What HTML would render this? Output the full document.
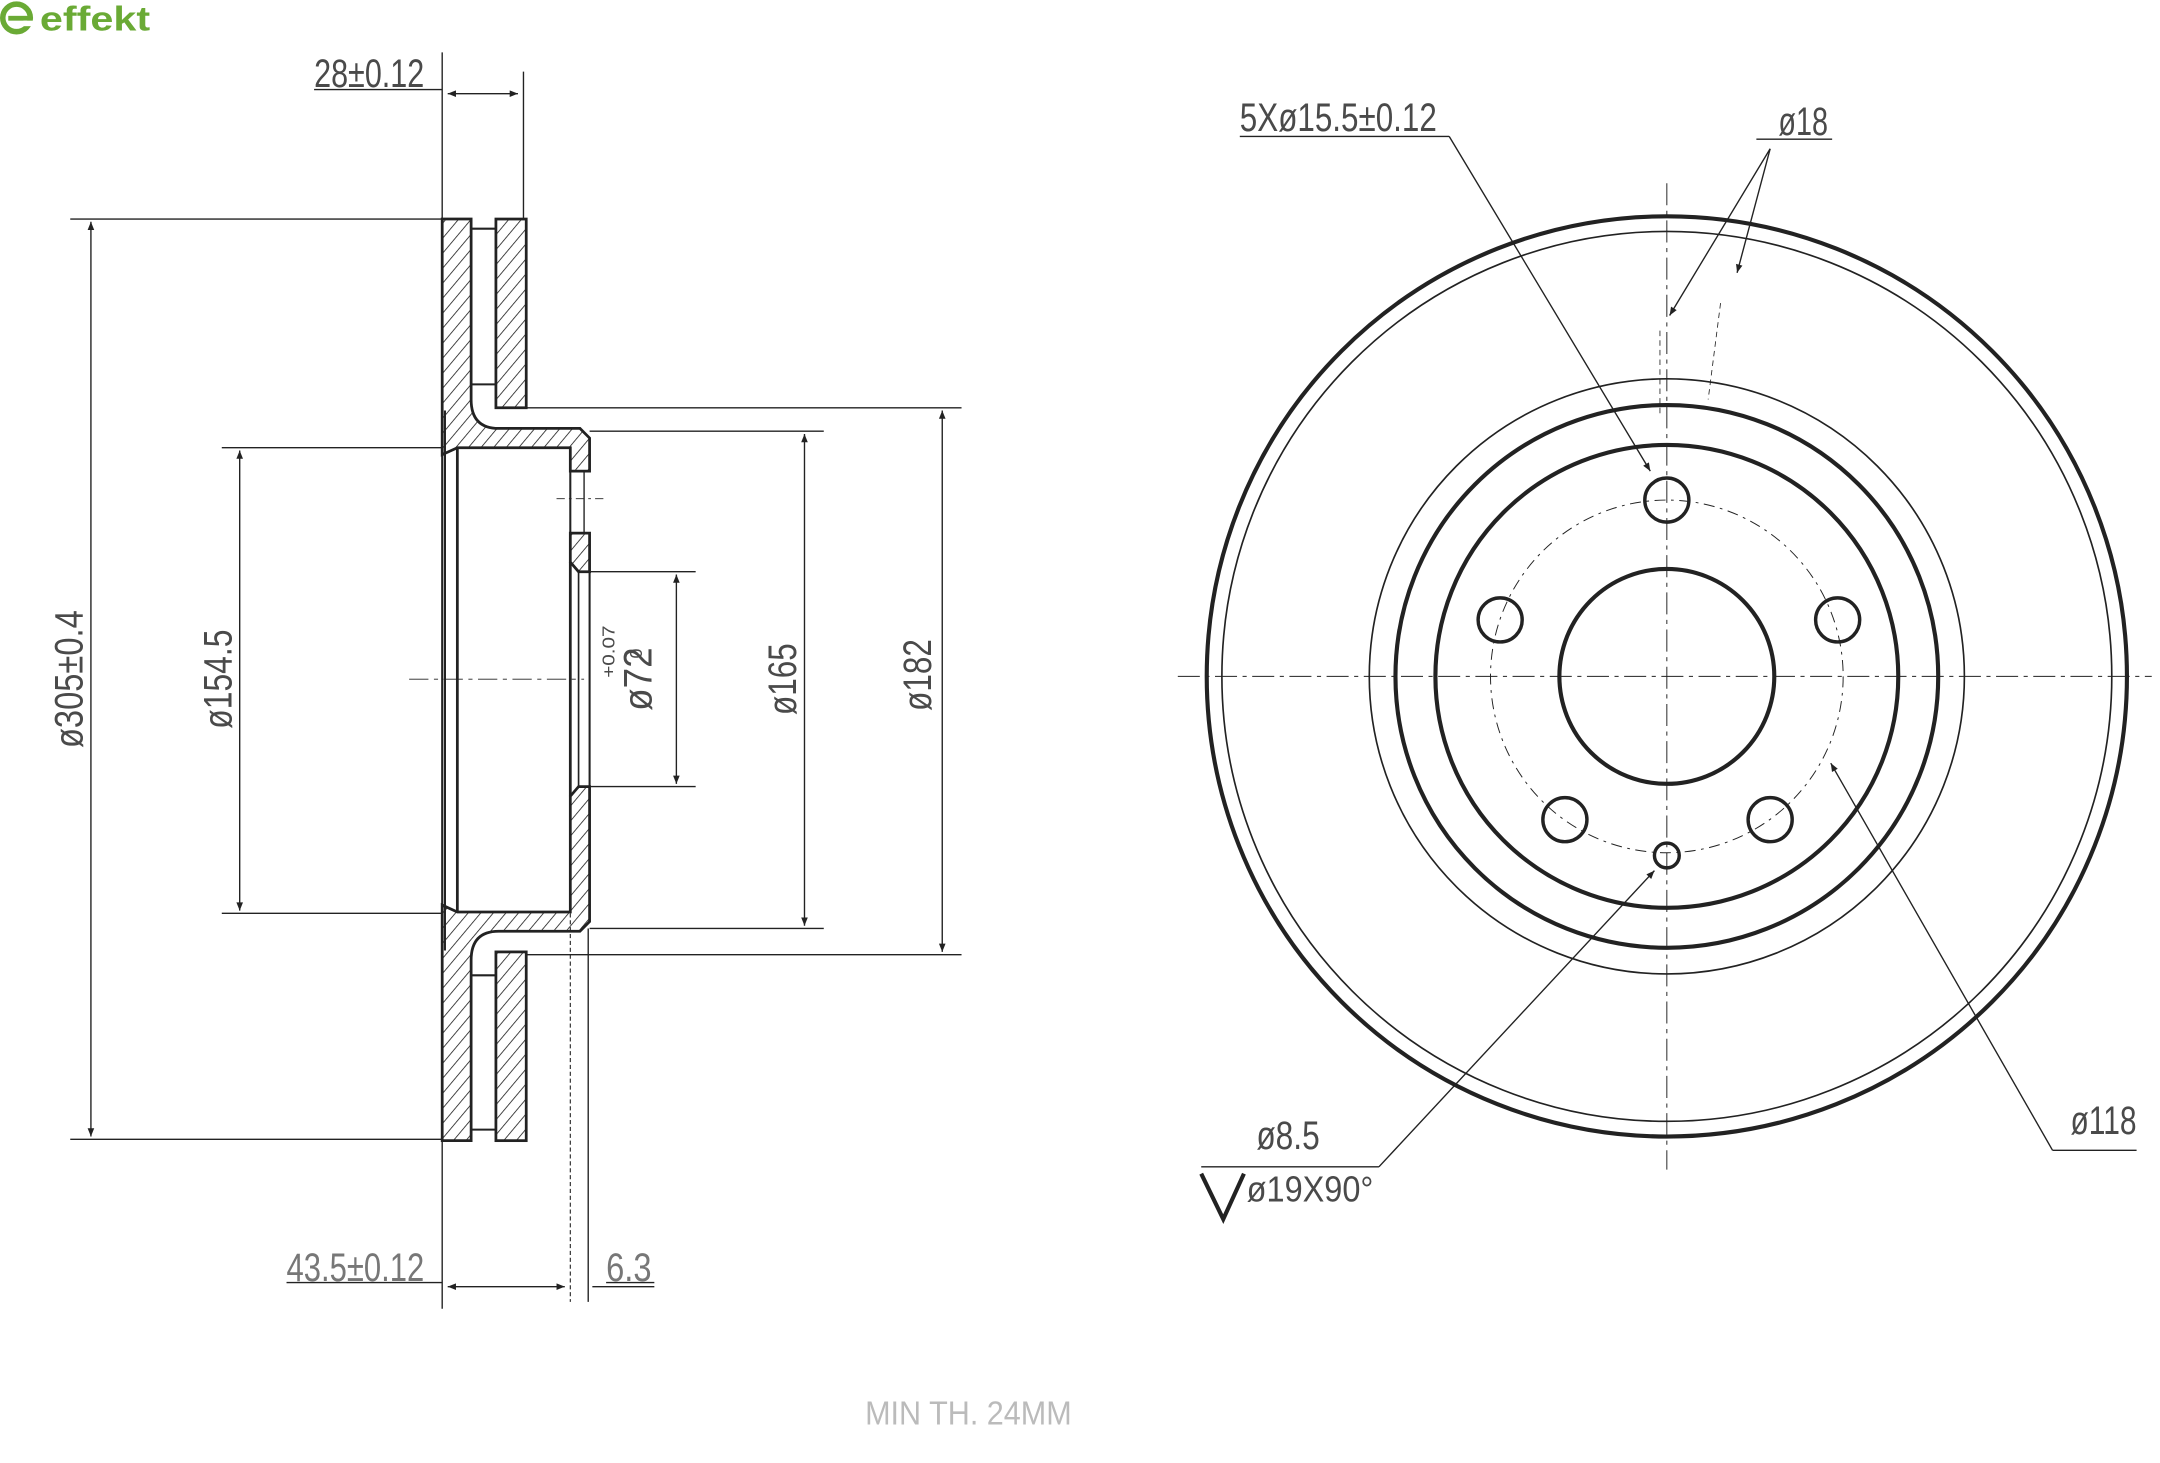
<!DOCTYPE html>
<html><head><meta charset="utf-8"><style>
html,body{margin:0;padding:0;background:#fff;}
svg{display:block;}
text{font-family:"Liberation Sans",sans-serif;fill:#4a4a4a;}
</style></head><body>
<svg width="2160" height="1463" viewBox="0 0 1568 1062" preserveAspectRatio="none" xmlns="http://www.w3.org/2000/svg">
<defs>
<pattern id="h" patternUnits="userSpaceOnUse" width="7" height="7" patternTransform="rotate(40)">
<rect width="7" height="7" fill="#fff"/><line x1="0" y1="0" x2="0" y2="7" stroke="#222" stroke-width="1.2"/>
</pattern>
<marker id="a" viewBox="0 0 10 10" refX="10" refY="5" markerWidth="9" markerHeight="6" orient="auto-start-reverse" markerUnits="userSpaceOnUse"><path d="M0,1 L10,5 L0,9 z" fill="#222"/></marker>
</defs>

<circle cx="12" cy="13" r="10" fill="none" stroke="#6aaa35" stroke-width="4"/>
<rect x="6" y="11.5" width="14" height="3.5" fill="#6aaa35"/>
<rect x="17" y="15" width="8" height="4" fill="#fff"/>
<text x="29" y="22" font-size="25" font-weight="bold" textLength="80" lengthAdjust="spacingAndGlyphs" style="fill:#6aaa35">effekt</text>

<g stroke="#222" fill="none" stroke-width="1">
<path d="M321,159 L342,159 L342,290 Q342,311 362,311 L421,311 L428,318 L428,342 L414,342 L414,325 L332,325 L321,330 Z" fill="url(#h)" stroke-width="2"/>
<path d="M321,828 L342,828 L342,697 Q342,676 362,676 L421,676 L428,669 L428,571 L420,571 L414,578 L414,662 L332,662 L321,657 Z" fill="url(#h)" stroke-width="2"/>
<path d="M414,387 L428,387 L428,415 L420,415 L414,408 Z" fill="url(#h)" stroke-width="2"/>
<rect x="321" y="330" width="2" height="327" fill="#fff" stroke-width="1.5"/>
<rect x="360" y="159" width="22" height="137" fill="url(#h)" stroke-width="2"/>
<rect x="360" y="691" width="22" height="137" fill="url(#h)" stroke-width="2"/>
<line x1="342" y1="166" x2="360" y2="166" stroke-width="1.5"/>
<line x1="342" y1="279" x2="360" y2="279" stroke-width="1.5"/>
<line x1="342" y1="708" x2="360" y2="708" stroke-width="1.5"/>
<line x1="342" y1="820" x2="360" y2="820" stroke-width="1.5"/>
<line x1="360" y1="296" x2="382" y2="296" stroke-width="1.5"/>
<line x1="360" y1="691" x2="382" y2="691" stroke-width="1.5"/>
<line x1="323" y1="298" x2="323" y2="690" stroke-width="1.5"/>
<line x1="332" y1="325" x2="332" y2="662" stroke-width="2"/>
<line x1="414" y1="342" x2="414" y2="387" stroke-width="1.5"/>
<line x1="414" y1="408" x2="414" y2="578" stroke-width="2"/>
<line x1="420" y1="415" x2="420" y2="571" stroke-width="1.2"/>
<line x1="424" y1="342" x2="424" y2="387" stroke-width="1"/>
<line x1="428" y1="415" x2="428" y2="571" stroke-width="1.5"/>
<line x1="404" y1="362" x2="438" y2="362" stroke-width="0.7" stroke-dasharray="6,3,2,3"/>
<line x1="297" y1="493" x2="424" y2="493" stroke-width="0.6" stroke-dasharray="14,4,3,4"/>

<line x1="321" y1="38" x2="321" y2="159" stroke-width="1"/>
<line x1="380" y1="52" x2="380" y2="159" stroke-width="1"/>
<line x1="228" y1="65" x2="321" y2="65" stroke-width="1"/>
<line x1="325" y1="68" x2="376" y2="68" marker-start="url(#a)" marker-end="url(#a)"/>
<line x1="51" y1="159" x2="321" y2="159"/>
<line x1="51" y1="827" x2="321" y2="827"/>
<line x1="66" y1="161" x2="66" y2="825" marker-start="url(#a)" marker-end="url(#a)"/>
<line x1="161" y1="325" x2="321" y2="325"/>
<line x1="161" y1="663" x2="321" y2="663"/>
<line x1="174" y1="327" x2="174" y2="661" marker-start="url(#a)" marker-end="url(#a)"/>
<line x1="428" y1="415" x2="505" y2="415"/>
<line x1="428" y1="571" x2="505" y2="571"/>
<line x1="491" y1="417" x2="491" y2="569" marker-start="url(#a)" marker-end="url(#a)"/>
<line x1="428" y1="313" x2="598" y2="313"/>
<line x1="428" y1="674" x2="598" y2="674"/>
<line x1="584" y1="315" x2="584" y2="672" marker-start="url(#a)" marker-end="url(#a)"/>
<line x1="382" y1="296" x2="698" y2="296"/>
<line x1="382" y1="693" x2="698" y2="693"/>
<line x1="684" y1="298" x2="684" y2="691" marker-start="url(#a)" marker-end="url(#a)"/>
<line x1="321" y1="828" x2="321" y2="950"/>
<line x1="414" y1="578" x2="414" y2="945" stroke-width="0.8" stroke-dasharray="3,2"/>
<line x1="427" y1="674" x2="427" y2="945"/>
<line x1="208" y1="931" x2="321" y2="931"/>
<line x1="325" y1="934" x2="410" y2="934" marker-start="url(#a)" marker-end="url(#a)"/>
<line x1="430" y1="934" x2="475" y2="934"/>
<line x1="440" y1="931" x2="475" y2="931"/>

<circle cx="1210" cy="491" r="334" stroke-width="3"/>
<circle cx="1210" cy="491" r="323" stroke-width="1.2"/>
<circle cx="1210" cy="491" r="216" stroke-width="1.2"/>
<circle cx="1210" cy="491" r="197" stroke-width="3"/>
<circle cx="1210" cy="491" r="168" stroke-width="3"/>
<circle cx="1210" cy="491" r="78" stroke-width="3"/>
<circle cx="1210" cy="491" r="128" stroke-width="0.7" stroke-dasharray="8,4,2,4"/>
<circle cx="1210" cy="363" r="16" stroke-width="2.5"/>
<circle cx="1089" cy="450" r="16" stroke-width="2.5"/>
<circle cx="1334" cy="450" r="16" stroke-width="2.5"/>
<circle cx="1136" cy="595" r="16" stroke-width="2.5"/>
<circle cx="1285" cy="595" r="16" stroke-width="2.5"/>
<circle cx="1210" cy="621" r="9" stroke-width="2.5"/>
<line x1="855" y1="491" x2="1562" y2="491" stroke-width="0.7" stroke-dasharray="16,4,3,4"/>
<line x1="1210" y1="133" x2="1210" y2="849" stroke-width="0.7" stroke-dasharray="16,4,3,4"/>
<line x1="900" y1="99" x2="1052" y2="99"/>
<line x1="1052" y1="99" x2="1198" y2="342" marker-end="url(#a)"/>
<line x1="1275" y1="101" x2="1330" y2="101"/>
<line x1="1285" y1="108" x2="1212" y2="229" marker-end="url(#a)"/>
<line x1="1285" y1="108" x2="1261" y2="198" marker-end="url(#a)"/>
<line x1="1249" y1="220" x2="1240" y2="290" stroke-width="0.6" stroke-dasharray="4,3"/>
<line x1="1205" y1="240" x2="1205" y2="300" stroke-width="0.6" stroke-dasharray="4,3"/>
<line x1="1551" y1="835" x2="1490" y2="835"/>
<line x1="1490" y1="835" x2="1329" y2="554" marker-end="url(#a)"/>
<line x1="872" y1="847" x2="1001" y2="847"/>
<line x1="1001" y1="847" x2="1201" y2="632" marker-end="url(#a)"/>
<path d="M872,852 L888,885 L903,852" stroke-width="3"/>
</g>

<g font-size="29">
<text x="228" y="63" textLength="80" lengthAdjust="spacingAndGlyphs">28±0.12</text>
<text x="208" y="930" textLength="100" lengthAdjust="spacingAndGlyphs" style="fill:#777">43.5±0.12</text>
<text x="440" y="930" textLength="33" lengthAdjust="spacingAndGlyphs" style="fill:#777">6.3</text>
<text transform="translate(60,493) rotate(-90)" text-anchor="middle" textLength="100" lengthAdjust="spacingAndGlyphs">ø305±0.4</text>
<text transform="translate(168,493) rotate(-90)" text-anchor="middle" textLength="72" lengthAdjust="spacingAndGlyphs">ø154.5</text>
<text transform="translate(473,493) rotate(-90)" text-anchor="middle" textLength="46" lengthAdjust="spacingAndGlyphs">ø72</text>
<text transform="translate(578,493) rotate(-90)" text-anchor="middle" textLength="52" lengthAdjust="spacingAndGlyphs">ø165</text>
<text transform="translate(676,490) rotate(-90)" text-anchor="middle" textLength="52" lengthAdjust="spacingAndGlyphs">ø182</text>
<text x="900" y="95" textLength="143" lengthAdjust="spacingAndGlyphs">5Xø15.5±0.12</text>
<text x="1291" y="98" textLength="36" lengthAdjust="spacingAndGlyphs">ø18</text>
<text x="912" y="834" textLength="46" lengthAdjust="spacingAndGlyphs">ø8.5</text>
<text x="905" y="872" font-size="26" textLength="92" lengthAdjust="spacingAndGlyphs">ø19X90°</text>
<text x="1503" y="823" textLength="48" lengthAdjust="spacingAndGlyphs">ø118</text>
</g>
<g font-size="13">
<text transform="translate(446,492) rotate(-90)" textLength="38" lengthAdjust="spacingAndGlyphs">+0.07</text>
<text transform="translate(466,478) rotate(-90)">0</text>
</g>
<text x="628" y="1034" font-size="24" textLength="150" lengthAdjust="spacingAndGlyphs" style="fill:#bbb">MIN TH. 24MM</text>
</svg>
</body></html>
